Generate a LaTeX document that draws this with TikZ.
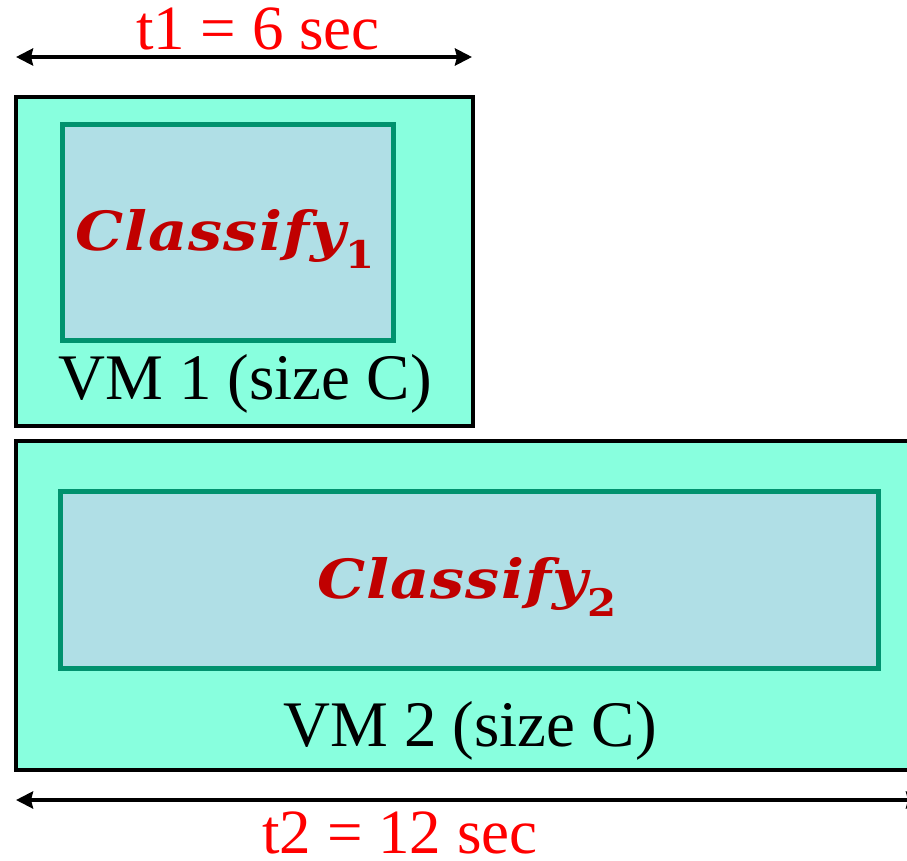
\documentclass[tikz,border=0pt]{standalone}
\usepackage{fontspec}
\setmainfont{Liberation Serif}
\newfontfamily\taskfont[LetterSpace=2, FakeStretch=1.12]{DejaVu Serif}
\newfontfamily\subfont[FakeStretch=1.1]{DejaVu Serif}
\usetikzlibrary{arrows.meta}

\definecolor{vmfill}{RGB}{136,255,222}
\definecolor{taskfill}{RGB}{176,223,230}
\definecolor{taskedge}{RGB}{0,146,110}
\definecolor{taskred}{RGB}{192,0,0}

\tikzset{
  vmbox/.style={draw=black, line width=4pt, fill=vmfill, rectangle,
    inner sep=0pt, outer sep=0pt, anchor=north west},
  taskbox/.style={draw=taskedge, line width=5pt, fill=taskfill, rectangle,
    inner sep=0pt, outer sep=0pt, anchor=north west},
  dimline/.style={line width=4.5pt,
    {Stealth[length=17pt,width=17pt,inset=2pt]}-{Stealth[length=17pt,width=17pt,inset=2pt]}},
  timelabel/.style={text=red, font=\fontsize{63}{63}\selectfont, anchor=base,
    inner sep=0pt, text depth=0pt},
  vmlabel/.style={text=black, font=\fontsize{65}{65}\selectfont, anchor=base, inner sep=0pt},
  tasklabel/.style={text=taskred, font=\fontsize{54}{54}\selectfont\taskfont\bfseries\itshape,
    anchor=base west, inner sep=0pt},
}

\newcommand{\tasksub}[1]{\raisebox{-18pt}{\fontsize{38}{38}\selectfont\subfont\bfseries\upshape #1}}

\begin{document}
\begin{tikzpicture}[x=1pt, y=-1pt]
\useasboundingbox (0,0) rectangle (907,861);
\clip (0,0) rectangle (907,861);

% first virtual machine
\node[vmbox, minimum width=457pt, minimum height=329pt] (vm1) at (16,97) {};
\node[taskbox, minimum width=331pt, minimum height=215pt] (task1) at (62,125) {};
\node[tasklabel] (c1) at (75,250) {Classify\tasksub{1}};
\node[vmlabel] (l1) at (245,399) {VM 1 (size C)};

% second virtual machine
\node[vmbox, minimum width=920pt, minimum height=329pt] (vm2) at (16,441) {};
\node[taskbox, minimum width=818pt, minimum height=177pt] (task2) at (60,491) {};
\node[tasklabel] (c2) at (317,598) {Classify\tasksub{2}};
\node[vmlabel] (l2) at (470,746) {VM 2 (size C)};

% durations
\coordinate (a1) at (16,57);
\coordinate (b1) at (472,57);
\draw[dimline] (a1) -- (b1);
\node[timelabel] (t1) at (258,50) {t1 = 6 sec};

\coordinate (a2) at (16,800);
\coordinate (b2) at (923,800);
\draw[dimline] (a2) -- (b2);
\node[timelabel] (t2) at (400,853) {t2 = 12 sec};
\end{tikzpicture}
\end{document}
